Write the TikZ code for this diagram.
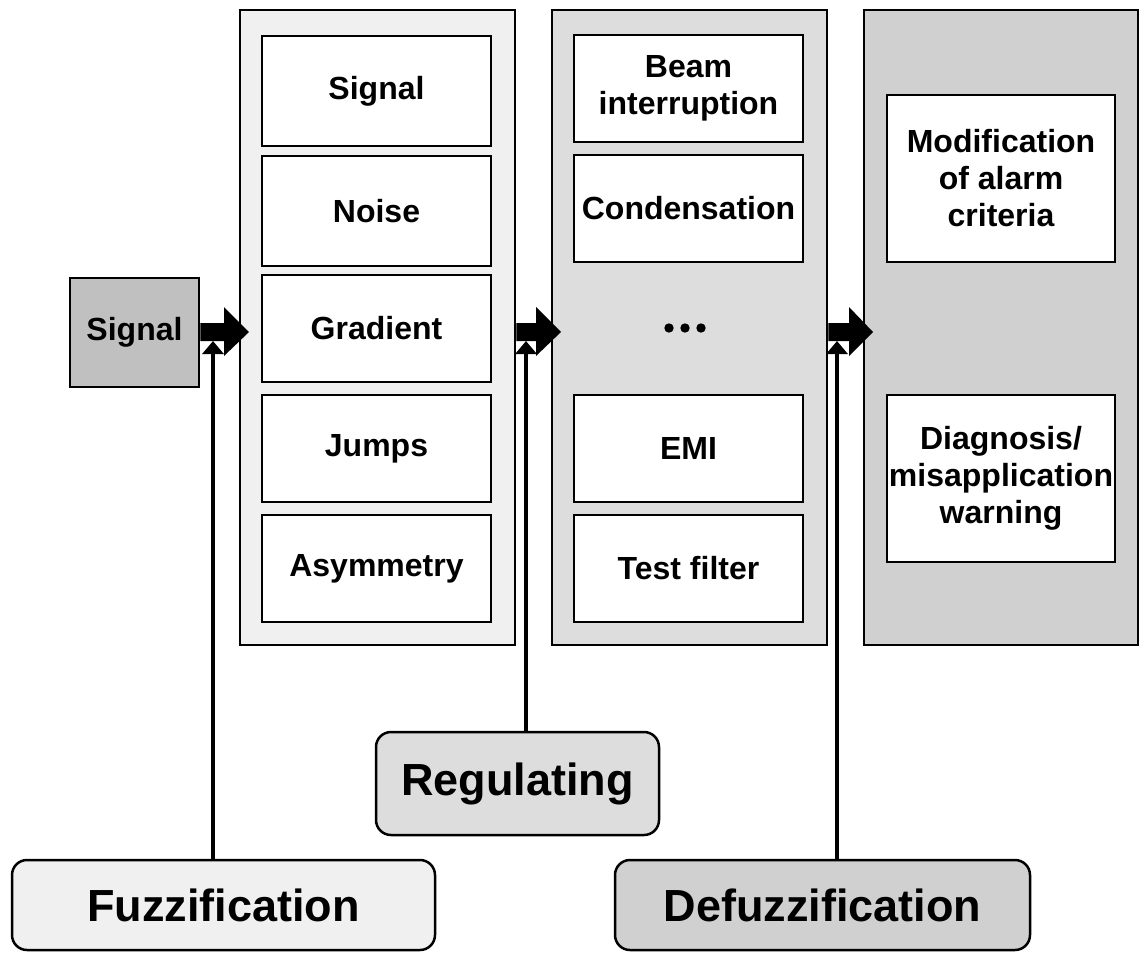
\documentclass[tikz,border=0pt]{standalone}
\usepackage{fontspec}
\setmainfont{Liberation Sans}
\usetikzlibrary{arrows.meta}
\definecolor{gA}{HTML}{F0F0F0}
\definecolor{gB}{HTML}{DDDDDD}
\definecolor{gC}{HTML}{D0D0D0}
\definecolor{gD}{HTML}{C0C0C0}
\tikzset{
  column/.style={draw=black, line width=2.5pt, rectangle, inner sep=0pt, minimum width=275pt, minimum height=635pt},
  item/.style={draw=black, line width=2.5pt, fill=white, rectangle, inner sep=0pt, minimum width=229pt, minimum height=110pt, align=center, font=\fontsize{32}{37}\selectfont\bfseries},
  stage/.style={draw=black, line width=2.5pt, rectangle, rounded corners=15pt, inner sep=0pt, align=center, font=\fontsize{45}{54}\selectfont\bfseries},
  feed/.style={line width=4pt, -{Triangle[width=21pt,length=13pt]}},
  blockarrow/.style={fill=black}
}
\begin{document}
\begin{tikzpicture}[x=1pt,y=-1pt]
\useasboundingbox (0,0) rectangle (1145,956);
% columns
\node[column, fill=gA] (c1) at (377.5,327.5) {};
\node[column, fill=gB] (c2) at (689.5,327.5) {};
\node[column, fill=gC, minimum width=274pt] (c3) at (1001,327.5) {};
% input
\node[draw=black, line width=2.5pt, fill=gD, inner sep=0pt, minimum width=129pt, minimum height=109pt, font=\fontsize{32}{37}\selectfont\bfseries] (sig) at (134.5,332.5) {Signal};
% column 1 items
\node[item] (a1) at (376.5,91) {Signal};
\node[item] (a2) at (376.5,211) {Noise};
\node[item, minimum height=107pt] (a3) at (376.5,328.5) {Gradient};
\node[item, minimum height=107pt] (a4) at (376.5,448.5) {Jumps};
\node[item, minimum height=107pt] (a5) at (376.5,568.5) {Asymmetry};
% column 2 items
\node[item, minimum height=107pt] (b1) at (688.5,88.5) {Beam\\interruption};
\node[item, minimum height=107pt] (b2) at (688.5,208.5) {Condensation};
\fill (669,328) circle (4.7pt) (685,328) circle (4.7pt) (701,328) circle (4.7pt);
\node[item, minimum height=107pt] (b3) at (688.5,448.5) {EMI};
\node[item, minimum height=107pt] (b4) at (688.5,568.5) {Test filter};
% column 3 items
\node[item, minimum width=228pt, minimum height=167pt] (d1) at (1001,178.5) {Modification\\of alarm\\criteria};
\node[item, minimum width=228pt, minimum height=167pt] (d2) at (1001,478.5) {Diagnosis/\\misapplication\\warning};
% stages
\node[stage, fill=gA, minimum width=423pt, minimum height=90pt] (fuz) at (223.5,905) {Fuzzification};
\node[stage, fill=gB, minimum width=283pt, minimum height=103pt] (reg) at (517.5,783.5) {Regulating};
\node[stage, fill=gC, minimum width=415pt, minimum height=90pt] (def) at (822.5,905) {Defuzzification};
% feed arrows
\coordinate (t1) at (213,341);
\coordinate (t2) at (526,341);
\coordinate (t3) at (837,341);
\draw[feed] (t1 |- fuz.north) -- (t1);
\draw[feed] (t2 |- reg.north) -- (t2);
\draw[feed] (t3 |- def.north) -- (t3);
% block arrows
\fill[blockarrow] (sig.east |- 0,323) -- (224,323) -- (224,307) -- (249,332) -- (224,356) -- (224,341) -- (sig.east |- 0,341) -- cycle;
\fill[blockarrow] (c1.east |- 0,323) -- (536,323) -- (536,307) -- (561,332) -- (536,356) -- (536,341) -- (c1.east |- 0,341) -- cycle;
\fill[blockarrow] (c2.east |- 0,323) -- (849,323) -- (849,307) -- (873,332) -- (849,356) -- (849,341) -- (c2.east |- 0,341) -- cycle;
\end{tikzpicture}
\end{document}
